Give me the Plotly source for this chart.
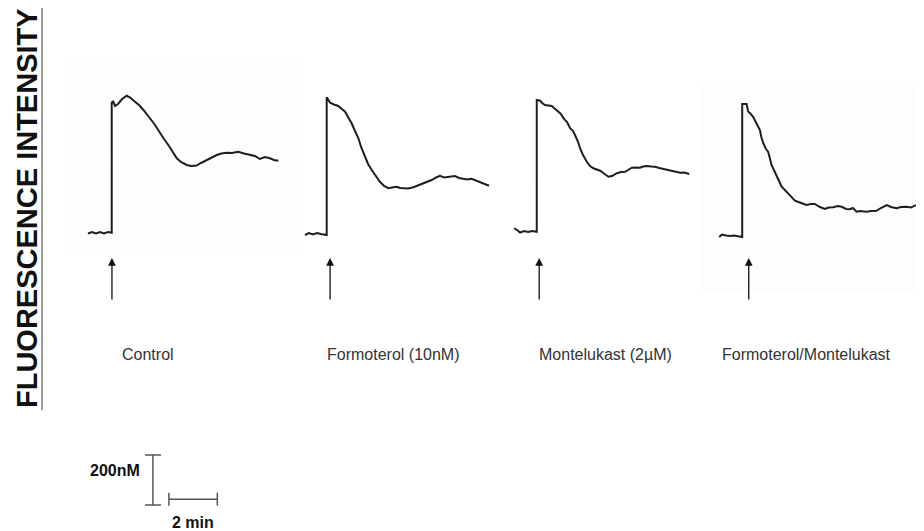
import plotly.graph_objects as go

# ---- data: time relative to stimulation (min), [Ca2+] relative to baseline (nM)
control_t = [-0.98, -0.81, -0.65, -0.48, -0.32, -0.15, 0.0, 0.0, 0.05, 0.14, 0.26, 0.43, 0.62, 0.76, 0.96,
             1.13, 1.31, 1.46, 1.58, 1.79, 2.0, 2.16, 2.34, 2.49, 2.69, 2.86, 3.10, 3.28, 3.51, 3.69, 3.93,
             4.10, 4.34, 4.53, 4.75, 4.97, 5.23, 5.47, 5.71, 5.92, 6.12, 6.33, 6.54, 6.70, 6.88]
control_v = [-3, 3, -3, 3, -3, 3, 0, 520, 527, 507, 515, 535, 548, 541, 524,
             511, 491, 475, 458, 431, 398, 375, 351, 327, 298, 283, 271, 267, 269, 279, 291,
             299, 311, 317, 320, 319, 324, 317, 311, 307, 295, 303, 298, 291, 288]

formo_t = [-0.90, -0.73, -0.57, -0.40, -0.24, 0.0, 0.0, 0.14, 0.30, 0.48, 0.63, 0.76, 0.88, 1.03, 1.17,
           1.31, 1.42, 1.58, 1.71, 1.86, 2.04, 2.20, 2.37, 2.55, 2.70, 2.89, 3.03, 3.17, 3.36, 3.58,
           3.77, 3.99, 4.19, 4.34, 4.52, 4.68, 4.85, 4.96, 5.14, 5.30, 5.47, 5.64, 5.80, 5.99, 6.17,
           6.33, 6.50, 6.71]
formo_v = [-4, 4, -2, 4, 0, -4, 547, 525, 518, 512, 500, 489, 468, 443, 412,
           383, 348, 309, 280, 256, 230, 209, 192, 183, 186, 189, 184, 183, 182, 187,
           194, 203, 212, 216, 226, 233, 226, 227, 230, 232, 224, 221, 218, 221, 214,
           209, 204, 193]

monte_t = [-0.94, -0.81, -0.69, -0.52, -0.36, -0.19, 0.0, 0.0, 0.14, 0.22, 0.34, 0.62, 0.76, 0.89, 1.00,
           1.10, 1.25, 1.38, 1.50, 1.58, 1.71, 1.79, 1.91, 2.07, 2.20, 2.34, 2.49, 2.62, 2.78, 2.96,
           3.11, 3.31, 3.49, 3.65, 3.77, 3.93, 4.10, 4.27, 4.40, 4.55, 4.73, 4.89, 5.06, 5.23, 5.39,
           5.58, 5.76, 5.93, 6.10, 6.30]
monte_v = [14, 7, -3, 3, -1, 3, 0, 527, 524, 515, 507, 503, 491, 480, 471,
           454, 439, 414, 403, 387, 359, 334, 307, 280, 263, 254, 247, 244, 233, 220,
           223, 234, 239, 240, 247, 256, 257, 256, 261, 263, 261, 260, 255, 251, 249,
           244, 241, 236, 237, 231]

combo_t = [-0.95, -0.84, -0.67, -0.51, -0.34, -0.18, 0.0, 0.0, 0.18, 0.25, 0.32, 0.45, 0.61, 0.73, 0.79,
           0.87, 0.98, 1.07, 1.14, 1.21, 1.31, 1.42, 1.52, 1.63, 1.76, 1.90, 2.01, 2.18, 2.38, 2.66,
           2.84, 3.00, 3.21, 3.42, 3.58, 3.76, 3.95, 4.11, 4.29, 4.45, 4.57, 4.73, 4.87, 5.14, 5.32,
           5.55, 5.73, 5.97, 6.15, 6.38, 6.56, 6.79, 6.97, 7.14, 7.30, 7.48]
combo_v = [-1, 9, 5, 3, 5, 1, -1, 531, 531, 500, 495, 480, 451, 427, 399,
           374, 351, 340, 315, 287, 267, 247, 223, 200, 187, 174, 163, 144, 137, 127,
           131, 131, 119, 111, 117, 118, 123, 120, 111, 110, 115, 100, 103, 100, 103,
           104, 115, 127, 119, 114, 119, 120, 117, 123, 131, 134]

labels = ["Control", "Formoterol (10nM)", "Montelukast (2\u00b5M)", "Formoterol/Montelukast"]
series_t = [control_t, formo_t, monte_t, combo_t]
series_v = [control_v, formo_v, monte_v, combo_v]

scale_nm = 200      # nM
scale_min = 2       # min
scale_nm_label = "200nM"
scale_min_label = "2 min"
y_title = "FLUORESCENCE INTENSITY"

# ---- layout constants (global axis: minutes / nM)
OFF = 8                      # page body margin of the browser
W, H = 924 - OFF, 531 - OFF
PX_PER_MIN = 24.2
NM_PER_PX = 4.0


def pxx(x):  # reference-pixel x -> paper
    return (x - OFF) / W


def pxy(y):  # reference-pixel y -> paper
    return 1 - (y - OFF) / H


stim_x = [4.616, 13.50, 22.18, 30.67]
base_y = [1193, 1188, 1197, 1177]
arrow_dx = [0.01, 0.14, 0.10, 0.27]
label_x = [4.96, 13.43, 22.19, 29.75]
label_y = 708
arrow_tip, arrow_tail = 1092, 920

fig = go.Figure()

for t, v, sx, by in zip(series_t, series_v, stim_x, base_y):
    fig.add_trace(go.Scatter(x=[sx + a for a in t], y=[by + b for b in v], mode="lines",
                             line=dict(color="#1e1e1e", width=2), hoverinfo="skip", showlegend=False))

annotations = []
for sx, dx, lx, lab in zip(stim_x, arrow_dx, label_x, labels):
    annotations.append(dict(x=sx + dx, y=arrow_tip, ax=sx + dx, ay=arrow_tail, xref="x", yref="y",
                            axref="x", ayref="y", showarrow=True, arrowhead=2, arrowsize=1.2,
                            arrowwidth=1.3, arrowcolor="#111", text=""))
    annotations.append(dict(x=lx, y=label_y, xref="x", yref="y", text=lab, showarrow=False,
                            xanchor="left", yanchor="middle",
                            font=dict(family="Liberation Sans, Arial", size=16, color="#333")))

# scale bars
vb_x = 6.32
vb_y0 = 104
hb_x0 = 6.98
hb_y = 127
cap = 0.33
tick = 26
fig.add_trace(go.Scatter(x=[vb_x, vb_x, None, vb_x - cap, vb_x + cap, None, vb_x - cap, vb_x + cap],
                         y=[vb_y0, vb_y0 + scale_nm, None, vb_y0, vb_y0, None, vb_y0 + scale_nm, vb_y0 + scale_nm],
                         mode="lines", line=dict(color="#555", width=1.5), hoverinfo="skip", showlegend=False))
fig.add_trace(go.Scatter(x=[hb_x0, hb_x0 + scale_min, None, hb_x0, hb_x0, None, hb_x0 + scale_min, hb_x0 + scale_min],
                         y=[hb_y, hb_y, None, hb_y - tick, hb_y + tick, None, hb_y - tick, hb_y + tick],
                         mode="lines", line=dict(color="#555", width=1.5), hoverinfo="skip", showlegend=False))
annotations.append(dict(x=5.88, y=244, xref="x", yref="y", text="<b>" + scale_nm_label + "</b>",
                        showarrow=False, xanchor="right", yanchor="middle",
                        font=dict(family="Liberation Sans, Arial", size=16, color="#111")))
annotations.append(dict(x=hb_x0 + scale_min / 2, y=36, xref="x", yref="y", text="<b>" + scale_min_label + "</b>",
                        showarrow=False, xanchor="center", yanchor="middle",
                        font=dict(family="Liberation Sans, Arial", size=16, color="#111")))
annotations.append(dict(x=pxx(27), y=pxy(208), xref="paper", yref="paper", text="<b>" + y_title + "</b>",
                        textangle=-90, showarrow=False, xanchor="center", yanchor="middle",
                        font=dict(family="Liberation Sans, Arial", size=29, color="#111")))

shapes = [
    dict(type="rect", xref="paper", yref="paper", x0=pxx(65), x1=pxx(298), y0=pxy(253), y1=pxy(57),
         fillcolor="#fdfdfd", line=dict(width=0), layer="below"),
    dict(type="rect", xref="paper", yref="paper", x0=pxx(700), x1=1, y0=pxy(292), y1=pxy(86),
         fillcolor="#fdfdfd", line=dict(width=0), layer="below"),
    dict(type="line", xref="paper", yref="paper", x0=pxx(42), x1=pxx(42), y0=pxy(410), y1=pxy(8),
         line=dict(color="#777", width=1.5)),
]

fig.update_layout(
    width=W, height=H, margin=dict(l=0, r=0, t=0, b=0),
    paper_bgcolor="white", plot_bgcolor="rgba(0,0,0,0)",
    xaxis=dict(range=[OFF / PX_PER_MIN, 924 / PX_PER_MIN], visible=False, fixedrange=True),
    yaxis=dict(range=[0, H * NM_PER_PX], visible=False, fixedrange=True),
    annotations=annotations, shapes=shapes, showlegend=False,
)

fig.write_html("out.html")
